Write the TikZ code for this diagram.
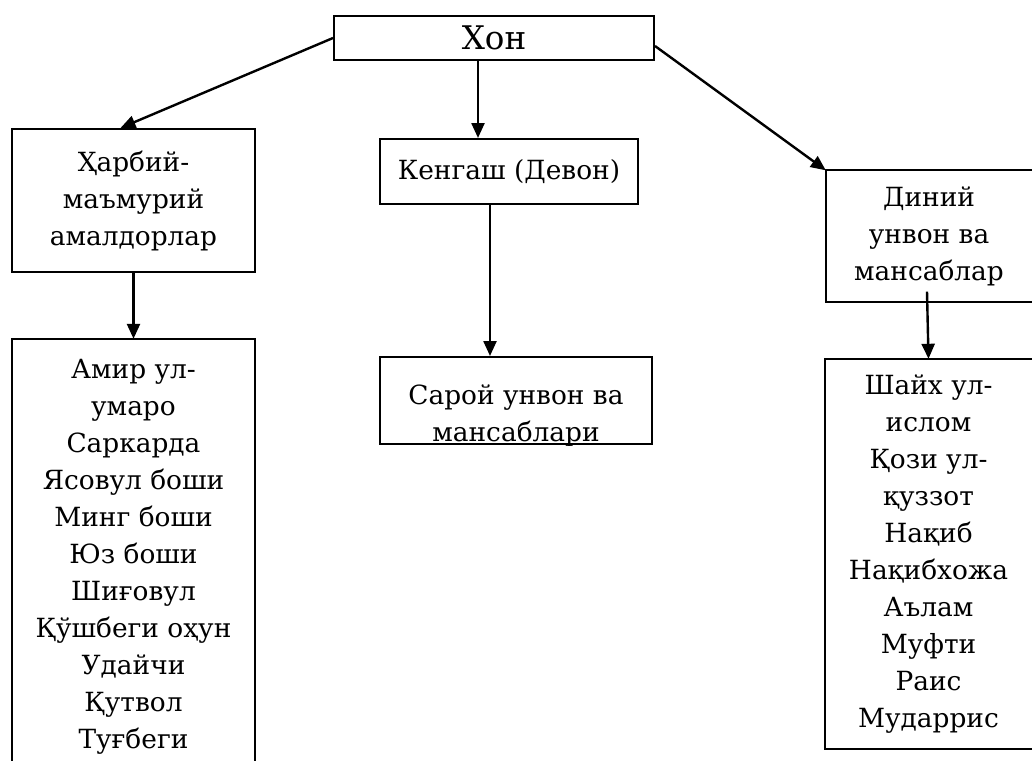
\documentclass[tikz,border=0pt]{standalone}
\usepackage{fontspec}
\setmainfont{DejaVu Serif}[Scale=0.88]
\usetikzlibrary{arrows.meta}

\begin{document}
\begin{tikzpicture}
  [x=1pt,y=-1pt,
   every node/.style={inner sep=0pt,align=center,font=\fontsize{30}{37}\selectfont},
   box/.style={draw,line width=2pt},
   arr/.style={line width=2.4pt,-{Triangle[length=15pt,width=13pt]}}]
  \useasboundingbox (0,0) rectangle (1032,760);

  \node[box,minimum width=320,minimum height=44,font=\fontsize{37}{37}\selectfont] (khon) at (494,38) {Хон};
  \node[box,minimum width=243,minimum height=143] (harbiy) at (133.5,200.5) {Ҳарбий-\\маъмурий\\амалдорлар};
  \node[box,minimum width=258,minimum height=65] (kengash) at (509,171.5) {Кенгаш (Девон)};
  \node[minimum width=206,minimum height=131] (diniy) at (929,236) {Диний\\унвон ва\\мансаблар};

  \node[minimum width=243,minimum height=436] (amal) at (133.5,557)
    {Амир ул-\\умаро\\Саркарда\\Ясовул боши\\Минг боши\\Юз боши\\Шиғовул\\Қўшбеги оҳун\\Удайчи\\Қутвол\\Туғбеги};
  \node[box,minimum width=272,minimum height=87] (saroy) at (516,400.5) {};
  \begin{scope}
    \clip (saroy.south west) rectangle (saroy.north east);
    \node (saroytxt) at (516,416) {Сарой унвон ва\\мансаблари};
  \end{scope}
  \node[minimum width=207,minimum height=390] (shayx) at (928.5,554)
    {Шайх ул-\\ислом\\Қози ул-\\қуззот\\Нақиб\\Нақибхожа\\Аълам\\Муфти\\Раис\\Мударрис};

  % open outlines, cut by the page
  \draw[line width=2pt] (amal.south west) -- (amal.north west) -- (amal.north east) -- (amal.south east);
  \draw[line width=2pt] (diniy.north east) -- (diniy.north west) -- (diniy.south west) -- (diniy.south east);
  \draw[line width=2pt] (shayx.north east) -- (shayx.north west) -- (shayx.south west) -- (shayx.south east);

  \draw[arr] (khon.west) -- ([xshift=-13pt]harbiy.north);
  \draw[arr] ([xshift=-16pt]khon.south) -- ([xshift=-31pt]kengash.north);
  \draw[arr] ([yshift=-8pt]khon.east) -- (diniy.north west);

  \draw[arr] (harbiy.south) -- (amal.north);
  \draw[arr] ([xshift=-19pt]kengash.south) -- ([xshift=-26pt]saroy.north);
  \draw[arr] ([xshift=-2pt,yshift=10pt]diniy.south) -- (shayx.north);
\end{tikzpicture}
\end{document}
